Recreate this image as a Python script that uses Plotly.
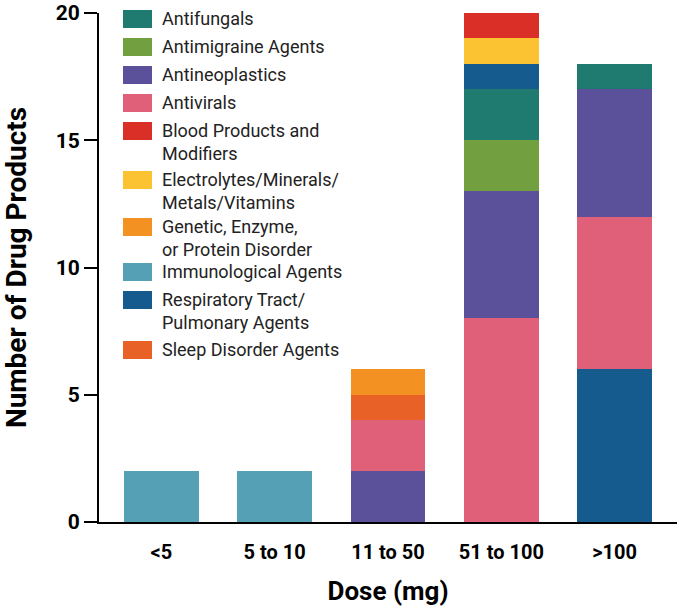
import plotly.graph_objects as go

# ---- data ----
dose_categories = ["<5", "5 to 10", "11 to 50", "51 to 100", ">100"]

drug_classes = [
    "Antifungals", "Antimigraine Agents", "Antineoplastics", "Antivirals",
    "Blood Products and Modifiers", "Electrolytes/Minerals/Metals/Vitamins",
    "Genetic, Enzyme, or Protein Disorder", "Immunological Agents",
    "Respiratory Tract/Pulmonary Agents", "Sleep Disorder Agents",
]
legend_labels = [
    "Antifungals", "Antimigraine Agents", "Antineoplastics", "Antivirals",
    "Blood Products and<br>Modifiers", "Electrolytes/Minerals/<br>Metals/Vitamins",
    "Genetic, Enzyme,<br>or Protein Disorder", "Immunological Agents",
    "Respiratory Tract/<br>Pulmonary Agents", "Sleep Disorder Agents",
]
class_colors = [
    "#1F7A6F", "#72A041", "#5B519B", "#E0607A", "#DA2F27",
    "#FBC232", "#F39122", "#55A0B5", "#155B8E", "#E86227",
]

# stack order (bottom -> top) per dose category
stack_lt5 = [("Immunological Agents", 2)]
stack_5_10 = [("Immunological Agents", 2)]
stack_11_50 = [("Antineoplastics", 2), ("Antivirals", 2),
               ("Sleep Disorder Agents", 1), ("Genetic, Enzyme, or Protein Disorder", 1)]
stack_51_100 = [("Antivirals", 8), ("Antineoplastics", 5), ("Antimigraine Agents", 2),
                ("Antifungals", 2), ("Respiratory Tract/Pulmonary Agents", 1),
                ("Electrolytes/Minerals/Metals/Vitamins", 1), ("Blood Products and Modifiers", 1)]
stack_gt100 = [("Respiratory Tract/Pulmonary Agents", 6), ("Antivirals", 6),
               ("Antineoplastics", 5), ("Antifungals", 1)]
stacks = [stack_lt5, stack_5_10, stack_11_50, stack_51_100, stack_gt100]

y_ticks = [0, 5, 10, 15, 20]

# ---- figure ----
color_of = dict(zip(drug_classes, class_colors))
fig = go.Figure()
for cat, stack in zip(dose_categories, stacks):
    for cls, n in stack:
        fig.add_trace(go.Bar(
            x=[cat], y=[n], name=cls, legendgroup=cls, showlegend=False,
            marker=dict(color=color_of[cls], line=dict(width=0)),
            hovertemplate=cls + ": %{y}<extra>%{x}</extra>",
        ))

# custom legend (large swatches, as in the reference)
W, H = 679, 611
L, R, T, B = 99, 2, 13, 89
pw, ph = W - L - R, H - T - B
def px(x):
    return (x - L) / pw
def py(y):
    return (H - B - y) / ph

legend_y = [19, 47, 75, 103, 131, 180, 227, 272, 300, 350]
shapes = []
annotations = []
for lab, col, yc in zip(legend_labels, class_colors, legend_y):
    shapes.append(dict(type="rect", xref="paper", yref="paper",
                       x0=px(123), x1=px(152), y0=py(yc + 9), y1=py(yc - 9),
                       fillcolor=col, line=dict(width=0), layer="above"))
    annotations.append(dict(xref="paper", yref="paper", x=px(161), y=py(yc - 12),
                            xanchor="left", yanchor="top", align="left",
                            text=lab, showarrow=False, borderpad=0,
                            font=dict(family="Roboto", size=18, color="#222222")))

fig.update_layout(
    width=W, height=H,
    margin=dict(l=L, r=R, t=T, b=B, autoexpand=False),
    barmode="stack", bargap=0.34,
    plot_bgcolor="white", paper_bgcolor="white",
    showlegend=False,
    shapes=shapes, annotations=annotations,
    font=dict(family="Roboto", color="black"),
    xaxis=dict(
        categoryorder="array", categoryarray=dose_categories,
        range=[-0.55, 4.55], automargin=False,
        showline=True, linecolor="black", linewidth=2,
        ticks="", showgrid=False,
        tickfont=dict(family="Roboto", size=20, color="black", weight="bold"),
        ticklabelstandoff=11,
        title=dict(text="<b>Dose (mg)</b>", font=dict(family="Roboto", size=26, color="black"),
                   standoff=19),
    ),
    yaxis=dict(
        range=[0, 20.001], tickvals=y_ticks, automargin=False,
        ticklabeloverflow="allow",
        showline=True, linecolor="black", linewidth=2,
        ticks="outside", ticklen=13, tickwidth=2, tickcolor="black",
        showgrid=False, zeroline=False,
        tickfont=dict(family="Roboto", size=21, color="black", weight="bold"),
        title=dict(text="<b>Number of Drug Products</b>",
                   font=dict(family="Roboto", size=28, color="black"), standoff=21),
    ),
)

fig.write_html("out.html", config={"displayModeBar": False},
               post_script="document.body.style.margin='0';")
